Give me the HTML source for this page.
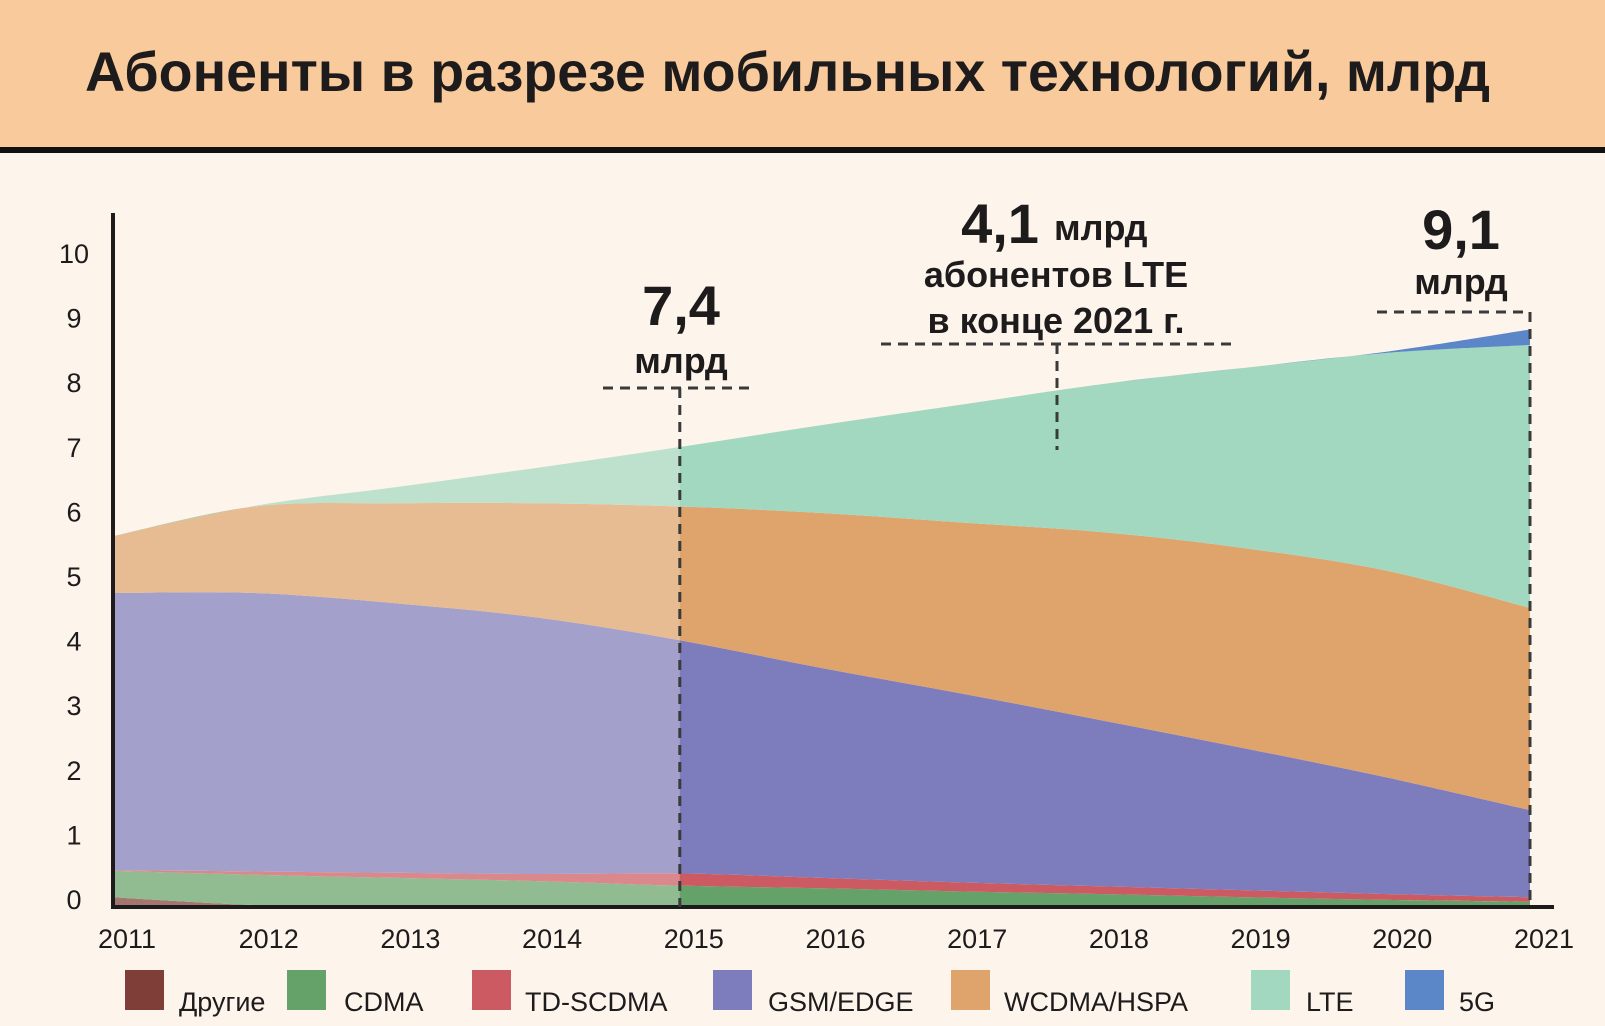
<!DOCTYPE html>
<html><head><meta charset="utf-8">
<style>
html,body{margin:0;padding:0;background:#fdf4ec;}
svg{display:block;}
text{font-family:"Liberation Sans","DejaVu Sans",sans-serif;}
</style></head>
<body>
<svg id="chart" width="1605" height="1026" viewBox="0 0 1605 1026">
  <defs><clipPath id="stackClip"><path id="stackClipPath" d=""/></clipPath></defs>
  <rect x="0" y="0" width="1605" height="1026" fill="#fdf4ec"/>
  <rect x="0" y="0" width="1605" height="148" fill="#f9ca9b"/>
  <rect x="0" y="147" width="1605" height="6" fill="#111"/>
  <text x="85" y="91" font-size="56" font-weight="bold" fill="#1e1b1c" textLength="1405" lengthAdjust="spacingAndGlyphs">Абоненты в разрезе мобильных технологий, млрд</text>
  <g id="areas"></g>
  <g id="axes"></g>
  <g id="annot"></g>
  <g id="legend"></g>
</svg>
<script>
const years = [2011,2012,2013,2014,2015,2016,2017,2018,2019,2020,2021];
const yTicks = [0,1,2,3,4,5,6,7,8,9,10];
const seriesNames = ["Другие","CDMA","TD-SCDMA","GSM/EDGE","WCDMA/HSPA","LTE","5G"];
const others = [0.15,0.03,0,0,0,0,0,0,0,0,0];
const cdma   = [0.41,0.47,0.45,0.40,0.33,0.29,0.24,0.20,0.15,0.11,0.08];
const tdscdma= [0.01,0.05,0.08,0.11,0.19,0.16,0.14,0.12,0.11,0.09,0.07];
const gsm    = [4.29,4.31,4.17,3.97,3.61,3.25,2.92,2.56,2.19,1.80,1.35];
const wcdma  = [0.88,1.34,1.55,1.77,2.07,2.40,2.65,2.92,3.10,3.20,3.13];
const lte    = [0,0.01,0.25,0.55,0.92,1.36,1.83,2.30,2.80,3.38,4.07];
const g5     = [0,0,0,0,0,0,0,0,0,0.02,0.24];
const colors = ["#7f3f38","#64a26a","#cc5a62","#7d7cbd","#dea46c","#a3d8c0","#5b86c8"];

const NS="http://www.w3.org/2000/svg";
const X0=113, X1=1530, Y0=907, YU=64.6;
const xS = y => X0 + (y-years[0])*(X1-X0)/(years[years.length-1]-years[0]);
const yS = v => Y0 - v*YU;
function mk(tag, attrs, parent){const e=document.createElementNS(NS,tag);for(const k in attrs)e.setAttribute(k,attrs[k]);parent.appendChild(e);return e;}

function curve(pts){
  let d="";
  for(let i=0;i<pts.length-1;i++){
    const p0=pts[Math.max(0,i-1)],p1=pts[i],p2=pts[i+1],p3=pts[Math.min(pts.length-1,i+2)];
    const c1=[p1[0]+(p2[0]-p0[0])/6,p1[1]+(p2[1]-p0[1])/6];
    const c2=[p2[0]-(p3[0]-p1[0])/6,p2[1]-(p3[1]-p1[1])/6];
    d+=` C${c1[0]},${c1[1]} ${c2[0]},${c2[1]} ${p2[0]},${p2[1]}`;
  }
  return d;
}
const data=[others,cdma,tdscdma,gsm,wcdma,lte,g5];
const areas=document.getElementById('areas');
let base=years.map(()=>0);
const keys=["others","cdma","td-scdma","gsm-edge","wcdma-hspa","lte","5g"];
data.forEach((s,si)=>{
  const top=base.map((b,i)=>b+s[i]);
  const tp=years.map((y,i)=>[xS(y),yS(top[i])]);
  const bp=years.map((y,i)=>[xS(y),yS(base[i])]).reverse();
  const d="M"+tp[0][0]+","+tp[0][1]+curve(tp)+" L"+bp[0][0]+","+bp[0][1]+curve(bp)+" Z";
  const p=mk('path',{d:d,fill:colors[si]},areas);
  
  
  base=top;
});
const totPts=years.map((y,i)=>[xS(y),yS(base[i])]);
document.getElementById('stackClipPath').setAttribute('d',"M"+totPts[0][0]+","+totPts[0][1]+curve(totPts)+" L"+X1+","+Y0+" L"+X0+","+Y0+" Z");
const fade=mk('rect',{x:X0,y:200,width:xS(2015)-X0,height:Y0-200,fill:"#fdf4ec","fill-opacity":0.3,"clip-path":"url(#stackClip)"},areas);



const axes=document.getElementById('axes');
const ya=mk('line',{x1:X0,y1:213,x2:X0,y2:Y0+2,stroke:"#1e1b1c","stroke-width":4},axes);


const xa=mk('line',{x1:X0-2,y1:Y0,x2:1554,y2:Y0,stroke:"#1e1b1c","stroke-width":4},axes);


yTicks.forEach(v=>{
  const t=mk('text',{x:74,y:yS(v)+2,"font-size":27,"text-anchor":"middle",fill:"#1e1b1c"},axes);
  t.textContent=v;
  
  
});
years.forEach(y=>{
  const t=mk('text',{x:xS(y)+14,y:948,"font-size":27,"text-anchor":"middle",fill:"#1e1b1c"},axes);
  t.textContent=y;
  
  
});

const an=document.getElementById('annot');
function dash(x1,y1,x2,y2,name){const l=mk('line',{x1,y1,x2,y2,stroke:"#3a3a3a","stroke-width":3,"stroke-dasharray":"10,7"},an);}
function txt(x,y,s,str,name,anchor){const t=mk('text',{x,y,"font-size":s,"font-weight":"bold","text-anchor":anchor||"middle",fill:"#1e1b1c"},an);t.textContent=str;}
dash(603,388,755,388,'callout-2015-hline');
dash(xS(2015),388,xS(2015),Y0,'callout-2015-vline');
txt(681,325,56,"7,4",'callout-2015-value');
txt(681,373,36,"млрд",'callout-2015-unit');
dash(881,344,1233,344,'callout-lte-hline');
dash(1057,344,1057,450,'callout-lte-vline');
txt(1000,243,56,"4,1",'callout-lte-value');
txt(1054,240,36,"млрд",'callout-lte-unit','start');
txt(1056,287,36,"абонентов LTE",'callout-lte-text1');
txt(1056,333,36,"в конце 2021 г.",'callout-lte-text2');
dash(1377,312,1530,312,'callout-2021-hline');
dash(xS(2021),312,xS(2021),Y0,'callout-2021-vline');
txt(1461,249,56,"9,1",'callout-2021-value');
txt(1461,294,36,"млрд",'callout-2021-unit');

const lg=document.getElementById('legend');
const sqX=[125,287,472,713,951,1251,1405];
const txX=[179,344,525,768,1004,1306,1459];
seriesNames.forEach((n,i)=>{
  const r=mk('rect',{x:sqX[i],y:970,width:39,height:40,fill:colors[i]},lg);
  
  
  const t=mk('text',{x:txX[i],y:1011,"font-size":27,fill:"#1e1b1c"},lg);
  t.textContent=n;
  
  
});
</script>
</body></html>
